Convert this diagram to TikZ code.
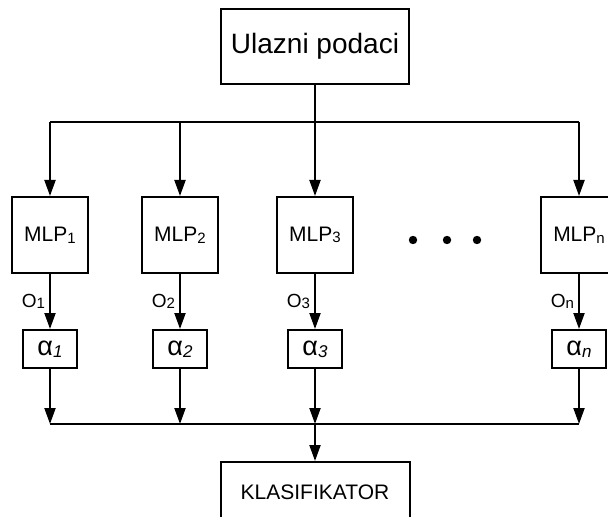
\documentclass[tikz,border=0pt]{standalone}
\usepackage{fontspec}
\setmainfont{Liberation Sans}
\usetikzlibrary{arrows.meta}
\newcommand{\idx}[1]{\raisebox{-0.15ex}{\fontsize{7.5}{7.5}\selectfont #1}}
\newcommand{\aidx}[1]{\raisebox{-0.15ex}{\fontsize{8.5}{8.5}\selectfont\itshape #1}}
\begin{document}
\begin{tikzpicture}[x=0.5pt, y=-0.5pt, line width=1pt,
    box/.style={draw, line width=1pt, inner sep=0pt, font=\fontsize{10.5}{12}\selectfont},
    mlpbox/.style={box, minimum width=38pt, minimum height=38pt},
    wbox/.style={box, minimum width=27pt, minimum height=19pt, font=\fontsize{13.5}{15}\selectfont},
    arr/.style={-{Triangle[length=8pt, width=5.5pt]}}]
  \useasboundingbox (0,0) rectangle (608,517);
  \node[box, minimum width=94pt, minimum height=37.5pt, font=\fontsize{14}{16}\selectfont] (in) at (315,46.5) {Ulazni podaci};
  \node[mlpbox] (mlp1) at (50,235) {MLP\idx{1}};
  \node[mlpbox] (mlp2) at (180,235) {MLP\idx{2}};
  \node[mlpbox] (mlp3) at (315,235) {MLP\idx{3}};
  \node[mlpbox] (mlpn) at (579,235) {MLP\idx{n}};
  \node[wbox] (a1) at (50,349) {α\aidx{1}};
  \node[wbox] (a2) at (180,349) {α\aidx{2}};
  \node[wbox] (a3) at (315,349) {α\aidx{3}};
  \node[wbox] (an) at (579,349) {α\aidx{n}};
  \node[box, minimum width=94.5pt, minimum height=30pt] (klas) at (315,492) {KLASIFIKATOR};
  \coordinate (topbus) at (0,122);
  \coordinate (botbus) at (0,424);
  % fan out
  \draw (in.south) -- (in.south |- topbus);
  \draw (mlp1.north |- topbus) -- (mlpn.north |- topbus);
  \foreach \i in {1,2,3,n}
    \draw[arr] (mlp\i.north |- topbus) -- (mlp\i.north);
  \foreach \i in {1,2,3,n}
    \draw[arr] (mlp\i.south) -- node[left, inner sep=2pt, font=\fontsize{9.5}{10}\selectfont] {O\idx{\i}} (a\i.north);
  % collect
  \foreach \i in {1,2,3,n}
    \draw[arr] (a\i.south) -- (a\i.south |- botbus);
  \draw (a1.south |- botbus) -- (an.south |- botbus);
  \draw[arr] (klas.north |- botbus) -- (klas.north);
  \foreach \x in {413,447,477}
    \fill (\x,240) circle (2.1pt);
\end{tikzpicture}
\end{document}
